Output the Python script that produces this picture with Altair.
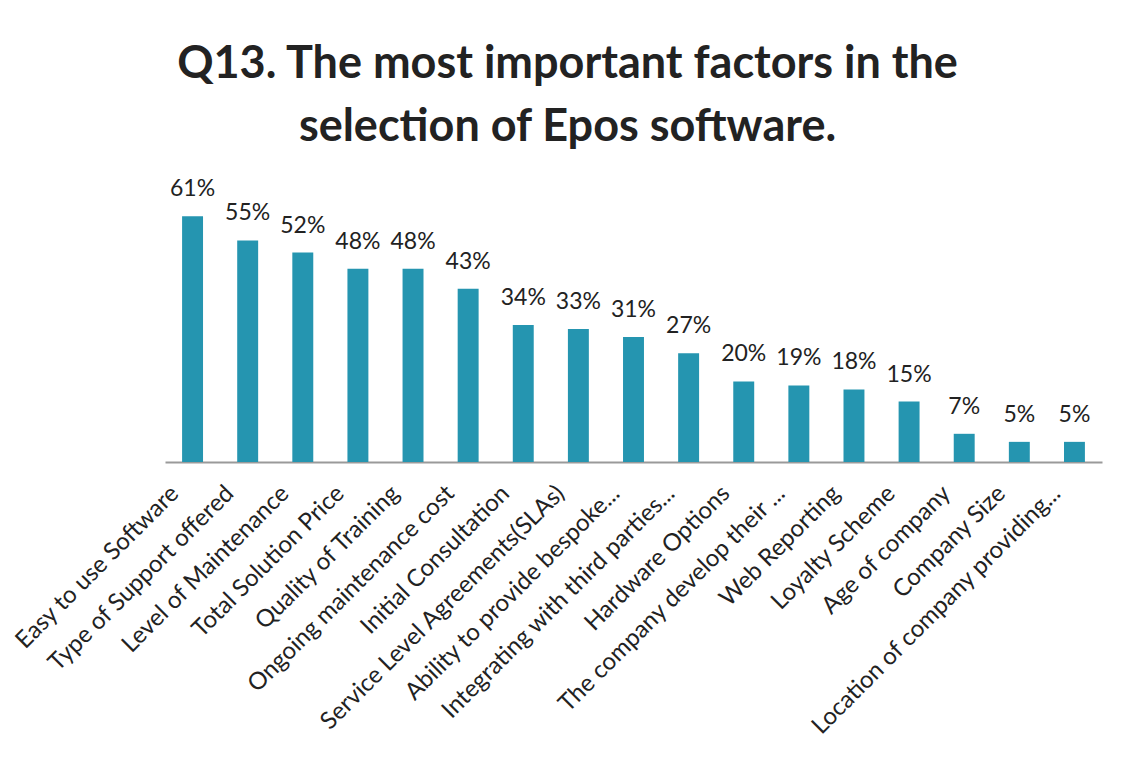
import altair as alt
import pandas as pd

factors = [
    "Easy to use Software",
    "Type of Support offered",
    "Level of Maintenance",
    "Total Solution Price",
    "Quality of Training",
    "Ongoing maintenance cost",
    "Initial Consultation",
    "Service Level Agreements(SLAs)",
    "Ability to provide bespoke...",
    "Integrating with third parties...",
    "Hardware Options",
    "The company develop their ...",
    "Web Reporting",
    "Loyalty Scheme",
    "Age of company",
    "Company Size",
    "Location of company providing...",
]
percents = [61, 55, 52, 48, 48, 43, 34, 33, 31, 27, 20, 19, 18, 15, 7, 5, 5]
labels = [f"{p}%" for p in percents]

df = pd.DataFrame({"factor": factors, "pct": percents, "label": labels})

FONT = "Lato"

x = alt.X(
    "factor:N",
    sort=factors,
    title=None,
    scale=alt.Scale(paddingInner=0.62, paddingOuter=0.31),
    axis=alt.Axis(
        labelAngle=-45,
        labelFont=FONT,
        labelFontSize=24,
        labelColor="#222222",
        labelPadding=19,
        labelOffset=-26,
        labelLimit=500,
        ticks=False,
        domainColor="#9a9a9a",
        domainWidth=2,
    ),
)
y = alt.Y("pct:Q", scale=alt.Scale(domain=[0, 70]), axis=None)

bars = alt.Chart(df).mark_bar(color="#2595B0").encode(x=x, y=y)
text = alt.Chart(df).mark_text(
    font=FONT, fontSize=23, color="#222222", baseline="middle", dy=-27
).encode(x=x, y=y, text="label:N")

chart = (
    (bars + text)
    .properties(
        width=937,
        height=282,
        autosize=alt.AutoSizeParams(type="none"),
        padding={"left": 157, "top": 172, "right": 15, "bottom": 290},
        view=alt.ViewBackground(stroke="white", strokeWidth=0),
        title=alt.TitleParams(
            text=["Q13. The most important factors in the", "selection of Epos software."],
            font=FONT,
            fontSize=45,
            fontWeight="bold",
            color="#222222",
            lineHeight=63,
            anchor="middle",
            frame="group",
            dx=-66,
            offset=28,
        ),
    )
    .configure_view(strokeWidth=0, stroke="white")
    .configure(background="white")
)

chart.save("out.html", embed_options={"renderer": "svg", "actions": False})
